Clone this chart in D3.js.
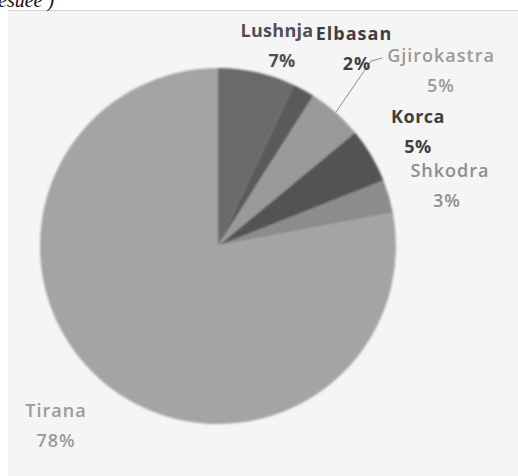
<!DOCTYPE html>
<html>
<head>
<meta charset="utf-8">
<script src="https://cdn.jsdelivr.net/npm/d3@7"></script>
<style>
  body { margin: 0; background: #fff; }
  svg { display: block; }
</style>
</head>
<body>
<div id="chart"></div>
<script>
// slices in drawing order, clockwise from 12 o'clock
const cities = ['Lushnja', 'Elbasan', 'Gjirokastra', 'Korca', 'Shkodra', 'Tirana'];
const shares = [7, 2, 5, 5, 3, 78];
const pctLabels = ['7%', '2%', '5%', '5%', '3%', '78%'];

const width = 518, height = 476;
const cx = 218, cy = 246, radius = 178;

const sliceColor = d3.scaleOrdinal()
  .domain(cities)
  .range(['#6a6a6a', '#5a5a5a', '#9a9a9a', '#525252', '#8c8c8c', '#a4a4a4']);

// label placement (centre x, baseline of the name line), colour, weight
const labelLayout = {
  Lushnja:     { x: 277, y: 37, dx: 5, color: '#505050', weight: 700, ls: 0.3 },
  Elbasan:     { x: 354, y: 40, dx: 3, color: '#404040', weight: 700, ls: 1 },
  Gjirokastra: { x: 441, y: 62, dx: 0, color: '#9a9a9a', weight: 600, ls: 1 },
  Korca:       { x: 418, y: 123, dx: 0, color: '#404040', weight: 700, ls: 0.5 },
  Shkodra:     { x: 450, y: 177, dx: -3, color: '#8e8e8e', weight: 600, ls: 1 },
  Tirana:      { x: 56, y: 417, dx: 0, color: '#9a9a9a', weight: 600, ls: 1 }
};

const svg = d3.select('#chart').append('svg')
  .attr('width', width)
  .attr('height', height);

// chart panel
svg.append('rect')
  .attr('x', 8).attr('y', 10)
  .attr('width', width - 8).attr('height', height - 10)
  .attr('fill', '#f5f5f5');
svg.append('line')
  .attr('x1', 8).attr('x2', width)
  .attr('y1', 10.5).attr('y2', 10.5)
  .attr('stroke', '#d4d4d4');

// cropped caption from the page above
svg.append('text')
  .attr('x', -2).attr('y', 7)
  .style('font-family', 'Liberation Serif, serif')
  .style('font-style', 'italic')
  .style('font-size', '20px')
  .attr('fill', '#111')
  .text('esuee )');

const defs = svg.append('defs');
defs.append('filter').attr('id', 'soft')
  .attr('x', '-10%').attr('y', '-10%').attr('width', '120%').attr('height', '120%')
  .append('feGaussianBlur').attr('stdDeviation', 0.8);

const data = cities.map((c, i) => ({ city: c, value: shares[i], pct: pctLabels[i] }));

const pie = d3.pie().sort(null).value(d => d.value);
const arc = d3.arc().innerRadius(0).outerRadius(radius);
const arcs = pie(data);

const g = svg.append('g')
  .attr('transform', `translate(${cx},${cy})`)
  .attr('filter', 'url(#soft)');

g.selectAll('path')
  .data(arcs)
  .enter().append('path')
  .attr('d', arc)
  .attr('fill', d => sliceColor(d.data.city));

// leader line for Gjirokastra
const gj = arcs[2];
const mid = (gj.startAngle + gj.endAngle) / 2;
const edge = [cx + radius * Math.sin(mid), cy - radius * Math.cos(mid)];
svg.append('polyline')
  .attr('points', [edge, [371, 61], [382, 58]].map(p => p.join(',')).join(' '))
  .attr('fill', 'none')
  .attr('stroke', '#8a8a8a')
  .attr('stroke-width', 1);

// labels
const labels = svg.selectAll('.lbl')
  .data(data)
  .enter().append('text')
  .attr('class', 'lbl')
  .attr('text-anchor', 'middle')
  .style('font-family', 'Open Sans, sans-serif')
  .style('font-size', '18px')
  .style('letter-spacing', d => labelLayout[d.city].ls + 'px')
  .style('font-weight', d => labelLayout[d.city].weight)
  .attr('fill', d => labelLayout[d.city].color);

labels.append('tspan')
  .attr('x', d => labelLayout[d.city].x)
  .attr('y', d => labelLayout[d.city].y)
  .text(d => d.city);

labels.append('tspan')
  .attr('x', d => labelLayout[d.city].x + labelLayout[d.city].dx)
  .attr('y', d => labelLayout[d.city].y + 30)
  .text(d => d.pct);
</script>
</body>
</html>
